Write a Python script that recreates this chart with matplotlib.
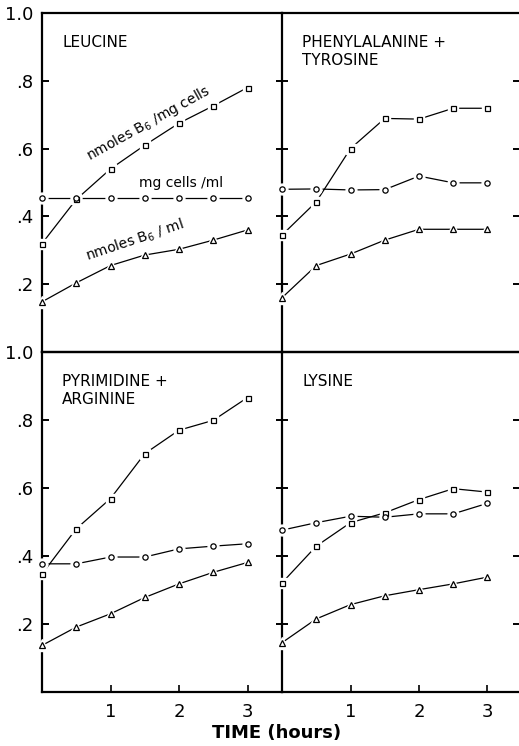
import matplotlib
matplotlib.use("Agg")
import matplotlib.pyplot as plt

plt.rcParams['font.family'] = ['DejaVu Sans']
plt.rcParams['mathtext.fontset'] = 'dejavusans'

times = [0, 0.5, 1, 1.5, 2, 2.5, 3]

# LEUCINE
leu_b6_per_mg = [0.32, 0.45, 0.54, 0.61, 0.675, 0.726, 0.78]
leu_mg_per_ml = [0.453, 0.453, 0.453, 0.453, 0.453, 0.453, 0.453]
leu_b6_per_ml = [0.148, 0.204, 0.255, 0.286, 0.303, 0.33, 0.36]

# PHENYLALANINE + TYROSINE
phe_b6_per_mg = [0.345, 0.443, 0.60, 0.689, 0.687, 0.719, 0.719]
phe_mg_per_ml = [0.48, 0.481, 0.478, 0.479, 0.519, 0.499, 0.499]
phe_b6_per_ml = [0.16, 0.255, 0.289, 0.33, 0.362, 0.362, 0.362]

# PYRIMIDINE + ARGININE
pyr_b6_per_mg = [0.347, 0.48, 0.569, 0.701, 0.77, 0.799, 0.866]
pyr_mg_per_ml = [0.377, 0.377, 0.397, 0.397, 0.421, 0.429, 0.436]
pyr_b6_per_ml = [0.137, 0.191, 0.23, 0.278, 0.318, 0.352, 0.381]

# LYSINE
lys_b6_per_mg = [0.321, 0.429, 0.498, 0.527, 0.566, 0.598, 0.588]
lys_mg_per_ml = [0.476, 0.498, 0.517, 0.514, 0.524, 0.524, 0.555]
lys_b6_per_ml = [0.145, 0.215, 0.257, 0.283, 0.301, 0.318, 0.338]

titles = ["LEUCINE", "PHENYLALANINE +\nTYROSINE", "PYRIMIDINE +\nARGININE", "LYSINE"]
ytick_vals = [0.2, 0.4, 0.6, 0.8, 1.0]
ytick_labels = [".2", ".4", ".6", ".8", "1.0"]
xtick_vals = [1, 2, 3]
xtick_labels = ["1", "2", "3"]

series = [
    (leu_b6_per_mg, leu_mg_per_ml, leu_b6_per_ml),
    (phe_b6_per_mg, phe_mg_per_ml, phe_b6_per_ml),
    (pyr_b6_per_mg, pyr_mg_per_ml, pyr_b6_per_ml),
    (lys_b6_per_mg, lys_mg_per_ml, lys_b6_per_ml),
]

W, H = 519, 746
fig = plt.figure(figsize=(W / 100, H / 100), dpi=100)

xl, xm, xr = 42 / W, 282 / W, 1.0
y_top0, y_top1 = 1 - 352 / H, 1 - 13 / H
y_bot0, y_bot1 = 1 - 692 / H, 1 - 352 / H

rects = [
    (xl, y_top0, xm - xl, y_top1 - y_top0),
    (xm, y_top0, xr - xm, y_top1 - y_top0),
    (xl, y_bot0, xm - xl, y_bot1 - y_bot0),
    (xm, y_bot0, xr - xm, y_bot1 - y_bot0),
]

px_per_hr = 68.5
for i, (rect, title, (sq, ci, tr)) in enumerate(zip(rects, titles, series)):
    ax = fig.add_axes(rect)
    left = i % 2 == 0
    bottom = i >= 2
    ax.set_ylim(0, 1.0)
    width_px = rect[2] * W
    ax.set_xlim(0, width_px / px_per_hr)
    ax.patch.set_alpha(0)
    for s in ['left', 'top', 'bottom']:
        ax.spines[s].set_linewidth(1.6)
    ax.spines['right'].set_visible(False)

    ax.set_yticks(ytick_vals)
    if left:
        ax.set_yticklabels(ytick_labels, fontsize=13)
        ax.tick_params(axis='y', direction='in', length=5, width=1.4, pad=6)
    else:
        ax.set_yticklabels([])
        ax.tick_params(axis='y', direction='inout', length=9, width=1.4,
                       left=True, right=True, labelleft=False)
    if bottom:
        ax.set_xticks(xtick_vals)
        ax.set_xticklabels(xtick_labels, fontsize=13)
        ax.tick_params(axis='x', direction='in', length=5, width=1.2, pad=8)
    else:
        ax.set_xticks([])

    for vals, mk, ms in [(sq, 's', 3.6), (ci, 'o', 3.8), (tr, '^', 4.0)]:
        ax.plot(times, vals, '-', color='black', lw=0.9, zorder=3, clip_on=False)
        ax.plot(times, vals, mk, ls='none', ms=ms + 4, mfc='white', mec='white',
                zorder=4, clip_on=False)
        ax.plot(times, vals, mk, ls='none', ms=ms, mfc='white', mec='black',
                mew=0.9, zorder=5, clip_on=False)

    ax.text(20 / px_per_hr, 0.935, title, fontsize=11,
            ha='left', va='top', linespacing=1.25)

    if i == 0:
        ax.text(1.55, 0.674, r"nmoles B$_6$ /mg cells", fontsize=10, rotation=29,
                rotation_mode='anchor', ha='center', va='center')
        ax.text(2.03, 0.50, "mg cells /ml", fontsize=10, ha='center', va='center')
        ax.text(1.36, 0.329, r"nmoles B$_6$ / ml", fontsize=10, rotation=18.6,
                rotation_mode='anchor', ha='center', va='center')

fig.text(277 / W, 1 - 733 / H, "TIME (hours)", fontsize=13, fontweight='bold',
         ha='center', va='center')

fig.savefig("out.png", dpi=100)
